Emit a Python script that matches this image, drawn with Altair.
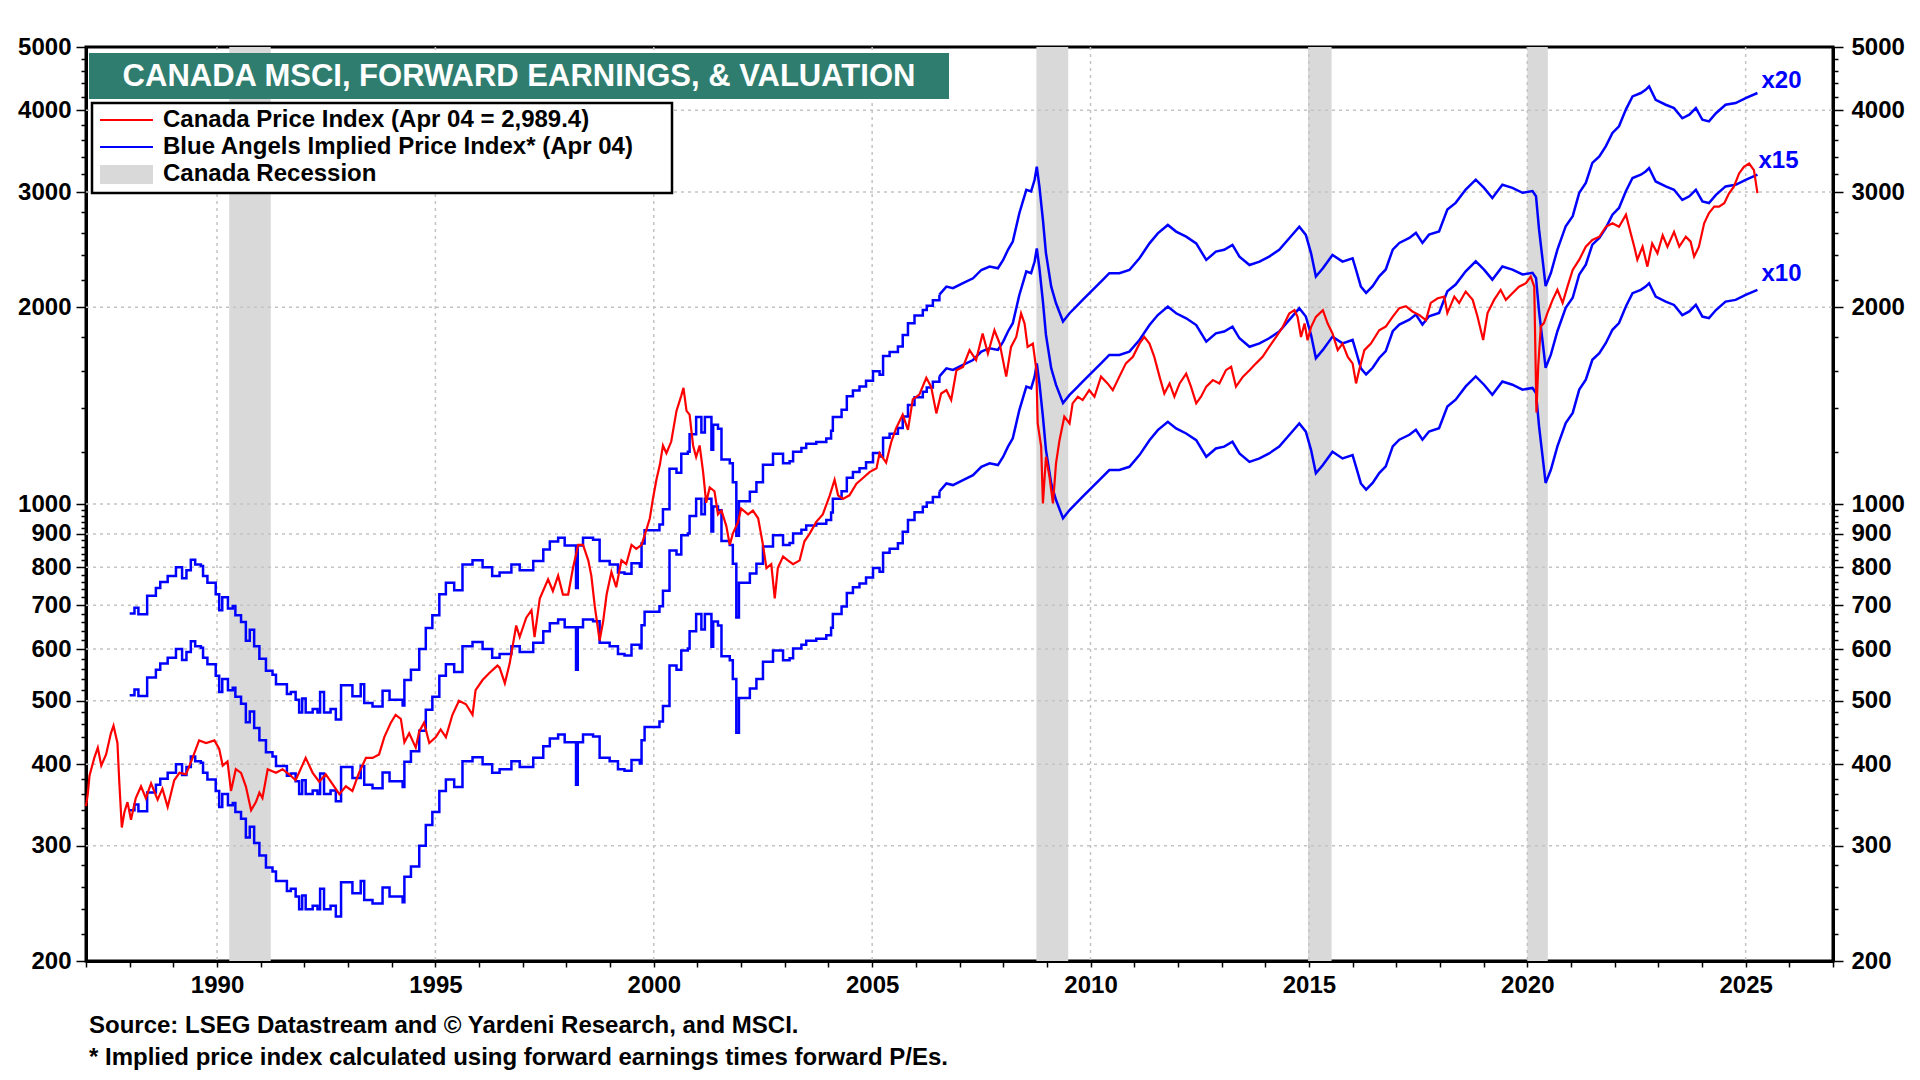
import altair as alt
import pandas as pd

# ---------------- data ----------------
price_years = [
    1987.00, 1987.04, 1987.08, 1987.19, 1987.27, 1987.35, 1987.46, 1987.57, 1987.63, 1987.72,
    1987.76, 1987.82, 1987.88, 1987.95, 1988.03, 1988.14, 1988.26, 1988.37, 1988.49, 1988.64,
    1988.75, 1988.87, 1989.02, 1989.14, 1989.29, 1989.44, 1989.59, 1989.75, 1989.94, 1990.05,
    1990.13, 1990.24, 1990.32, 1990.43, 1990.55, 1990.66, 1990.78, 1990.89, 1990.97, 1991.04,
    1991.16, 1991.35, 1991.50, 1991.65, 1991.80, 1992.03, 1992.19, 1992.34, 1992.49, 1992.68,
    1992.80, 1992.95, 1993.10, 1993.25, 1993.41, 1993.56, 1993.71, 1993.83, 1993.98, 1994.09,
    1994.21, 1994.29, 1994.40, 1994.55, 1994.63, 1994.74, 1994.86, 1995.01, 1995.12, 1995.24,
    1995.39, 1995.54, 1995.70, 1995.85, 1995.92, 1996.08, 1996.23, 1996.42, 1996.47, 1996.59,
    1996.70, 1996.85, 1996.93, 1997.08, 1997.20, 1997.27, 1997.39, 1997.58, 1997.69, 1997.81,
    1997.92, 1998.04, 1998.15, 1998.27, 1998.38, 1998.50, 1998.57, 1998.65, 1998.76, 1998.84,
    1998.92, 1999.03, 1999.14, 1999.26, 1999.37, 1999.49, 1999.60, 1999.72, 1999.83, 1999.91,
    1999.98, 2000.06, 2000.14, 2000.21, 2000.29, 2000.40, 2000.52, 2000.63, 2000.68, 2000.75,
    2000.82, 2000.90, 2000.97, 2001.05, 2001.13, 2001.20, 2001.28, 2001.39, 2001.47, 2001.55,
    2001.66, 2001.74, 2001.81, 2001.93, 2002.00, 2002.16, 2002.27, 2002.39, 2002.50, 2002.58,
    2002.69, 2002.77, 2002.84, 2002.96, 2003.07, 2003.19, 2003.34, 2003.45, 2003.57, 2003.72,
    2003.87, 2004.03, 2004.14, 2004.22, 2004.33, 2004.48, 2004.64, 2004.79, 2004.94, 2005.10,
    2005.17, 2005.32, 2005.44, 2005.55, 2005.70, 2005.82, 2005.93, 2006.08, 2006.24, 2006.35,
    2006.47, 2006.58, 2006.70, 2006.81, 2006.93, 2007.08, 2007.23, 2007.38, 2007.53, 2007.65,
    2007.80, 2007.92, 2008.07, 2008.18, 2008.30, 2008.41, 2008.49, 2008.56, 2008.68, 2008.76,
    2008.79, 2008.87, 2008.91, 2008.98, 2009.06, 2009.14, 2009.21, 2009.29, 2009.40, 2009.52,
    2009.59, 2009.71, 2009.82, 2009.97, 2010.09, 2010.24, 2010.39, 2010.51, 2010.66, 2010.81,
    2010.97, 2011.12, 2011.23, 2011.35, 2011.46, 2011.58, 2011.69, 2011.81, 2011.92, 2012.04,
    2012.19, 2012.30, 2012.42, 2012.53, 2012.65, 2012.80, 2012.95, 2013.10, 2013.22, 2013.33,
    2013.49, 2013.64, 2013.79, 2013.94, 2014.09, 2014.25, 2014.40, 2014.55, 2014.67, 2014.74,
    2014.82, 2014.90, 2014.97, 2015.05, 2015.16, 2015.32, 2015.43, 2015.54, 2015.66, 2015.77,
    2015.89, 2016.00, 2016.08, 2016.15, 2016.27, 2016.42, 2016.61, 2016.76, 2016.92, 2017.07,
    2017.22, 2017.37, 2017.53, 2017.68, 2017.79, 2017.95, 2018.10, 2018.17, 2018.33, 2018.44,
    2018.59, 2018.75, 2018.86, 2018.99, 2019.09, 2019.24, 2019.39, 2019.51, 2019.66, 2019.81,
    2019.97, 2020.08, 2020.16, 2020.21, 2020.25, 2020.31, 2020.38, 2020.46, 2020.58, 2020.69,
    2020.81, 2020.92, 2021.04, 2021.19, 2021.34, 2021.49, 2021.65, 2021.80, 2021.95, 2022.10,
    2022.26, 2022.37, 2022.45, 2022.52, 2022.64, 2022.75, 2022.86, 2022.98, 2023.10, 2023.21,
    2023.36, 2023.48, 2023.63, 2023.74, 2023.82, 2023.93, 2024.05, 2024.16, 2024.28, 2024.39,
    2024.51, 2024.62, 2024.73, 2024.85, 2024.96, 2025.08, 2025.19, 2025.27,
]
price_values = [
    345, 360, 384, 409, 424, 398, 414, 446, 458, 431,
    378, 320, 338, 350, 329, 355, 370, 355, 374, 353,
    367, 344, 378, 388, 386, 409, 435, 431, 435, 422,
    398, 404, 364, 393, 388, 370, 340, 350, 362, 355,
    393, 388, 393, 386, 378, 409, 388, 376, 386, 370,
    360, 370, 364, 388, 409, 409, 414, 440, 463, 476,
    469, 432, 446, 424, 449, 463, 431, 440, 452, 440,
    476, 500, 494, 476, 519, 538, 551, 566, 562, 532,
    570, 652, 626, 670, 688, 626, 717, 767, 736, 777,
    727, 727, 798, 866, 866, 820, 777, 697, 618, 661,
    727, 787, 746, 820, 809, 866, 854, 866, 913, 951,
    1018, 1089, 1149, 1229, 1196, 1246, 1388, 1465, 1505, 1388,
    1370, 1229, 1180, 1229, 1119, 1004, 1060, 1046, 964, 977,
    926, 866, 901, 939, 984, 964, 977, 951, 866, 798,
    809, 717, 798, 831, 820, 809, 820, 877, 901, 939,
    964, 1031, 1089, 1031, 1018, 1031, 1074, 1096, 1119, 1134,
    1196, 1157, 1246, 1306, 1370, 1298, 1446, 1470, 1560, 1512,
    1376, 1476, 1493, 1442, 1602, 1621, 1719, 1660, 1823, 1699,
    1844, 1759, 1566, 1739, 1801, 1956, 1888, 1739, 1759, 1602,
    1328, 1224, 1002, 1181, 1101, 1002, 1154, 1252, 1360, 1328,
    1425, 1459, 1442, 1493, 1459, 1566, 1529, 1493, 1566, 1641,
    1679, 1759, 1801, 1759, 1679, 1566, 1476, 1529, 1459, 1529,
    1583, 1512, 1425, 1459, 1512, 1547, 1529, 1602, 1621, 1512,
    1566, 1602, 1641, 1679, 1739, 1801, 1865, 1956, 1979, 1933,
    1801, 1888, 1780, 1865, 1933, 1979, 1888, 1823, 1719, 1759,
    1679, 1641, 1529, 1602, 1719, 1759, 1844, 1868, 1935, 1993,
    2007, 1970, 1945, 1911, 2030, 2064, 2076, 1959, 2076, 2030,
    2113, 2052, 1935, 1782, 1959, 2052, 2126, 2052, 2101, 2150,
    2176, 2228, 2150, 1380, 1623, 1868, 1891, 1959, 2052, 2126,
    2030, 2150, 2281, 2364, 2475, 2534, 2563, 2655, 2687, 2655,
    2770, 2592, 2475, 2364, 2475, 2307, 2504, 2418, 2577, 2475,
    2607, 2475, 2563, 2519, 2390, 2475, 2687, 2786, 2850, 2850,
    2884, 2986, 3058, 3203, 3278, 3317, 3240, 2989,
]

# implied price index at a forward P/E of 10 (forward earnings x 10)
implied_years = [
    1988.00, 1988.11, 1988.20, 1988.37, 1988.40, 1988.60, 1988.70, 1988.87, 1989.06, 1989.20,
    1989.30, 1989.40, 1989.50, 1989.63, 1989.68, 1989.78, 1989.97, 1990.05, 1990.12, 1990.25,
    1990.36, 1990.42, 1990.55, 1990.66, 1990.75, 1990.85, 1990.97, 1991.12, 1991.27, 1991.35,
    1991.50, 1991.60, 1991.69, 1991.80, 1991.88, 1991.95, 1992.03, 1992.19, 1992.30, 1992.36,
    1992.45, 1992.60, 1992.72, 1992.84, 1993.10, 1993.29, 1993.37, 1993.56, 1993.79, 1993.95,
    1994.25, 1994.29, 1994.44, 1994.63, 1994.78, 1994.93, 1995.09, 1995.24, 1995.43, 1995.62,
    1995.85, 1996.08, 1996.30, 1996.47, 1996.74, 1996.93, 1997.24, 1997.47, 1997.62, 1997.81,
    1997.96, 1998.19, 1998.22, 1998.26, 1998.38, 1998.61, 1998.76, 1998.99, 1999.18, 1999.33,
    1999.49, 1999.68, 1999.72, 1999.79, 2000.13, 2000.21, 2000.36, 2000.52, 2000.63, 2000.78,
    2000.82, 2000.97, 2001.09, 2001.17, 2001.32, 2001.36, 2001.47, 2001.55, 2001.74, 2001.81,
    2001.89, 2001.95, 2002.12, 2002.20, 2002.35, 2002.50, 2002.73, 2002.96, 2003.11, 2003.19,
    2003.38, 2003.49, 2003.72, 2003.95, 2004.06, 2004.10, 2004.30, 2004.42, 2004.56, 2004.71,
    2004.86, 2005.02, 2005.17, 2005.25, 2005.40, 2005.59, 2005.70, 2005.82, 2005.97, 2006.16,
    2006.25, 2006.39, 2006.54,
    2006.70, 2006.85, 2007.08, 2007.31, 2007.50, 2007.69, 2007.88, 2008.00, 2008.11, 2008.22,
    2008.37, 2008.53, 2008.64, 2008.72, 2008.77, 2008.83, 2008.91, 2008.98, 2009.10, 2009.21,
    2009.37, 2009.52, 2009.67, 2009.82, 2010.05, 2010.28, 2010.43, 2010.66, 2010.89, 2011.12,
    2011.35, 2011.54, 2011.77, 2011.96, 2012.19, 2012.42, 2012.65, 2012.87, 2013.06, 2013.25,
    2013.41, 2013.64, 2013.87, 2014.09, 2014.32, 2014.55, 2014.78, 2014.93, 2015.05, 2015.16,
    2015.32, 2015.54, 2015.77, 2016.00, 2016.08, 2016.19, 2016.31, 2016.46, 2016.61, 2016.76,
    2016.92, 2017.07, 2017.30, 2017.45, 2017.60, 2017.75, 2017.98, 2018.17, 2018.36, 2018.59,
    2018.82, 2019.01, 2019.20, 2019.43, 2019.66, 2019.89, 2020.12, 2020.20, 2020.27, 2020.35,
    2020.42, 2020.54, 2020.69, 2020.88, 2021.04, 2021.19, 2021.34, 2021.49, 2021.65, 2021.80,
    2021.95, 2022.10, 2022.26, 2022.41, 2022.60, 2022.71, 2022.79, 2022.94, 2023.17, 2023.36,
    2023.55, 2023.71, 2023.86, 2024.01, 2024.16, 2024.32, 2024.54, 2024.77, 2025.00, 2025.27,
]
implied_x10 = [
    340, 347, 339, 339, 362, 372, 380, 388, 400, 385,
    396, 411, 404, 402, 388, 379, 364, 344, 360, 346,
    349, 338, 330, 309, 321, 303, 290, 278, 274, 265,
    265, 256, 258, 251, 240, 252, 240, 243, 240, 258,
    240, 243, 234, 264, 254, 265, 248, 245, 259, 251,
    246, 269, 279, 300, 323, 338, 364, 379, 369, 404,
    410, 400, 388, 393, 404, 396, 409, 426, 438, 444,
    432, 432, 372, 432, 444, 441, 409, 404, 393, 391,
    406, 401, 435, 456, 465, 491, 566, 558, 597, 601,
    639, 679, 643, 679, 605, 661, 652, 585, 577, 540,
    447, 505, 505, 522, 540, 574, 597, 577, 581, 601,
    609, 618, 622, 630, 647, 679, 697, 731, 746, 756,
    772, 798, 788, 842, 854, 871, 907, 945, 971, 990,
    1005, 1025, 1045,
    1075, 1069, 1088, 1107, 1140, 1154, 1147, 1181, 1224, 1260,
    1392, 1512, 1503, 1566, 1640, 1529, 1360, 1209, 1075, 1014,
    951, 979, 1002, 1026, 1063, 1101, 1127, 1127, 1140, 1188,
    1252, 1297, 1336, 1305, 1282, 1252, 1181, 1216, 1224, 1245,
    1195, 1160, 1174, 1195, 1224, 1275, 1328, 1290, 1209, 1114,
    1147, 1202, 1174, 1188, 1140, 1075, 1052, 1077, 1115, 1142,
    1225, 1254, 1276, 1299, 1254, 1291, 1306, 1410, 1444, 1513,
    1567, 1522, 1469, 1539, 1522, 1496, 1505, 1478, 1314, 1183,
    1077, 1128, 1225, 1330, 1378, 1496, 1549, 1662, 1701, 1763,
    1847, 1891, 2007, 2101, 2126, 2150, 2176, 2076, 2040, 2016,
    1945, 1970, 2016, 1935, 1924, 1980, 2040, 2052, 2088, 2126,
]
multiples = [10, 15, 20]
monthly_until = 2006.54  # before this the implied index is monthly (stepped)

recession_start = [1990.28, 2008.76, 2014.98, 2020.00]
recession_end = [1991.23, 2009.49, 2015.52, 2020.47]

y_major = [200, 300, 400, 500, 600, 700, 800, 900, 1000, 2000, 3000, 4000, 5000]
y_minor = [v for v in list(range(220, 1000, 20)) + list(range(1200, 5000, 200)) if v not in y_major]
y_grid = [300, 400, 500, 600, 700, 800, 900, 1000, 2000, 3000, 4000]
x_ticks = list(range(1987, 2028))
x_grid = [1990, 1995, 2000, 2005, 2010, 2015, 2020, 2025]

title_text = "CANADA MSCI, FORWARD EARNINGS, & VALUATION"
legend_labels = [
    "Canada Price Index (Apr 04 = 2,989.4)",
    "Blue Angels Implied Price Index* (Apr 04)",
    "Canada Recession",
]
footnotes = [
    "Source: LSEG Datastream and \u00a9 Yardeni Research, and MSCI.",
    "* Implied price index calculated using forward earnings times forward P/Es.",
]

# ---------------- tables ----------------
price_df = pd.DataFrame({"year": price_years, "value": price_values})
rows = []
for m in multiples:
    for yr, v in zip(implied_years, implied_x10):
        rows.append({"year": yr, "value": v * m / 10.0, "mult": m})
blue_df = pd.DataFrame(rows)
rec_df = pd.DataFrame({"start": recession_start, "end": recession_end})
ygrid_df = pd.DataFrame({"value": y_grid})
xgrid_df = pd.DataFrame({"year": x_grid})
one = pd.DataFrame({"a": [0]})

# ---------------- layout ----------------
W, H = 1747, 914
FONT = "Liberation Sans"
BLUE = "#0000ff"
RED = "#ff0000"
TXT = 24

xscale = alt.Scale(domain=[1987, 2027], nice=False, zero=False)
yscale = alt.Scale(type="log", domain=[200, 5000], nice=False)

major_list = "[" + ",".join(str(v) for v in y_major) + "]"
is_major = f"indexof({major_list}, datum.value) >= 0"

x_axis = alt.Axis(
    values=x_ticks, title=None, grid=False,
    labelExpr="datum.value % 5 == 0 ? format(datum.value, 'd') : ''",
    labelFont=FONT, labelFontSize=TXT, labelFontWeight="bold", labelColor="black",
    labelPadding=6, labelOverlap=False, labelFlush=False,
    tickSize=6, tickColor="black", tickWidth=1.5,
    domainColor="black", domainWidth=3,
)


def y_axis(orient, pad):
    return alt.Axis(
        orient=orient, values=y_major + y_minor, title=None, grid=False,
        labelExpr=f"{is_major} ? format(datum.value, 'd') : ''",
        labelFont=FONT, labelFontSize=TXT, labelFontWeight="bold", labelColor="black",
        labelPadding=pad, labelOverlap=False, labelFlush=False,
        tickSize={"condition": {"test": is_major, "value": 10}, "value": 5},
        tickColor="black", tickWidth=1.5,
        domainColor="black", domainWidth=3,
    )


recessions = alt.Chart(rec_df).mark_rect(color="#d9d9d9").encode(
    x=alt.X("start:Q", scale=xscale, axis=x_axis),
    x2="end:Q",
    y=alt.value(0),
    y2=alt.value(H),
)

grid_h = alt.Chart(ygrid_df).mark_rule(color="#c4c4c4", strokeWidth=1.5, strokeDash=[3, 4]).encode(
    y=alt.Y("value:Q", scale=yscale, axis=None),
    x=alt.value(0),
    x2=alt.value(W),
)
grid_v = alt.Chart(xgrid_df).mark_rule(color="#c4c4c4", strokeWidth=1.5, strokeDash=[3, 4]).encode(
    x=alt.X("year:Q", scale=xscale, axis=x_axis),
    y=alt.value(0),
    y2=alt.value(H),
)

blue_early = alt.Chart(blue_df).transform_filter(
    alt.datum.year <= monthly_until
).mark_line(color=BLUE, strokeWidth=2.5, interpolate="step-after").encode(
    x=alt.X("year:Q", scale=xscale, axis=x_axis),
    y=alt.Y("value:Q", scale=yscale, axis=y_axis("left", 5)),
    detail="mult:N",
)
blue_late = alt.Chart(blue_df).transform_filter(
    alt.datum.year >= monthly_until
).mark_line(color=BLUE, strokeWidth=2.5).encode(
    x=alt.X("year:Q", scale=xscale, axis=x_axis),
    y=alt.Y("value:Q", scale=yscale, axis=None),
    detail="mult:N",
)

red = alt.Chart(price_df).mark_line(color=RED, strokeWidth=2.2).encode(
    x=alt.X("year:Q", scale=xscale, axis=x_axis),
    y=alt.Y("value:Q", scale=yscale, axis=y_axis("right", 8)),
)

# end-of-line multiple labels
label_layers = []
offsets = {20: (4, -12), 15: (1, -14), 10: (4, -16)}
for m in multiples:
    ldf = pd.DataFrame({"year": [implied_years[-1]], "value": [implied_x10[-1] * m / 10.0],
                        "txt": [f"x{m}"]})
    dx, dy = offsets[m]
    label_layers.append(
        alt.Chart(ldf).mark_text(
            align="left", baseline="middle", dx=dx, dy=dy, font=FONT, fontSize=TXT,
            fontWeight="bold", color=BLUE,
        ).encode(
            x=alt.X("year:Q", scale=xscale, axis=x_axis),
            y=alt.Y("value:Q", scale=yscale, axis=None),
            text="txt:N",
        )
    )

title_box = alt.Chart(one).mark_rect(color="#2e7d6e").encode(
    x=alt.value(3), x2=alt.value(863), y=alt.value(6), y2=alt.value(52)
)
title_lbl = alt.Chart(one).mark_text(
    text=title_text, align="center", baseline="middle", font=FONT, fontSize=31,
    fontWeight="bold", color="white",
).encode(x=alt.value(433), y=alt.value(30))

legend_box = alt.Chart(one).mark_rect(fill="white", stroke="black", strokeWidth=2.5).encode(
    x=alt.value(6), x2=alt.value(586), y=alt.value(56), y2=alt.value(146)
)
leg_red = alt.Chart(one).mark_rule(color=RED, strokeWidth=2).encode(
    x=alt.value(14), x2=alt.value(67), y=alt.value(73)
)
leg_blue = alt.Chart(one).mark_rule(color=BLUE, strokeWidth=2).encode(
    x=alt.value(14), x2=alt.value(67), y=alt.value(100)
)
leg_rec = alt.Chart(one).mark_rect(color="#d9d9d9").encode(
    x=alt.value(14), x2=alt.value(67), y=alt.value(118), y2=alt.value(137)
)
leg_texts = []
for i, t in enumerate(legend_labels):
    leg_texts.append(
        alt.Chart(one).mark_text(
            text=t, align="left", baseline="middle", font=FONT, fontSize=TXT,
            fontWeight="bold", color="black",
        ).encode(x=alt.value(77), y=alt.value(73 + 27 * i))
    )

foot_layers = []
for i, t in enumerate(footnotes):
    foot_layers.append(
        alt.Chart(one).mark_text(
            text=t, align="left", baseline="middle", font=FONT, fontSize=TXT,
            fontWeight="bold", color="black",
        ).encode(x=alt.value(3), y=alt.value(979 + 32 * i))
    )

chart = alt.layer(
    recessions, grid_h, grid_v, blue_early, blue_late, red, *label_layers,
    title_box, title_lbl, legend_box, leg_red, leg_blue, leg_rec, *leg_texts, *foot_layers,
).resolve_scale(y="shared", x="shared").resolve_axis(y="independent").properties(
    width=W, height=H,
    autosize=alt.AutoSizeParams(type="none"),
    padding={"left": 78, "top": 39, "right": 79, "bottom": 113},
    background="white",
).configure_view(stroke="black", strokeWidth=3)

chart.save("out.html", embed_options={"renderer": "svg", "actions": False})
